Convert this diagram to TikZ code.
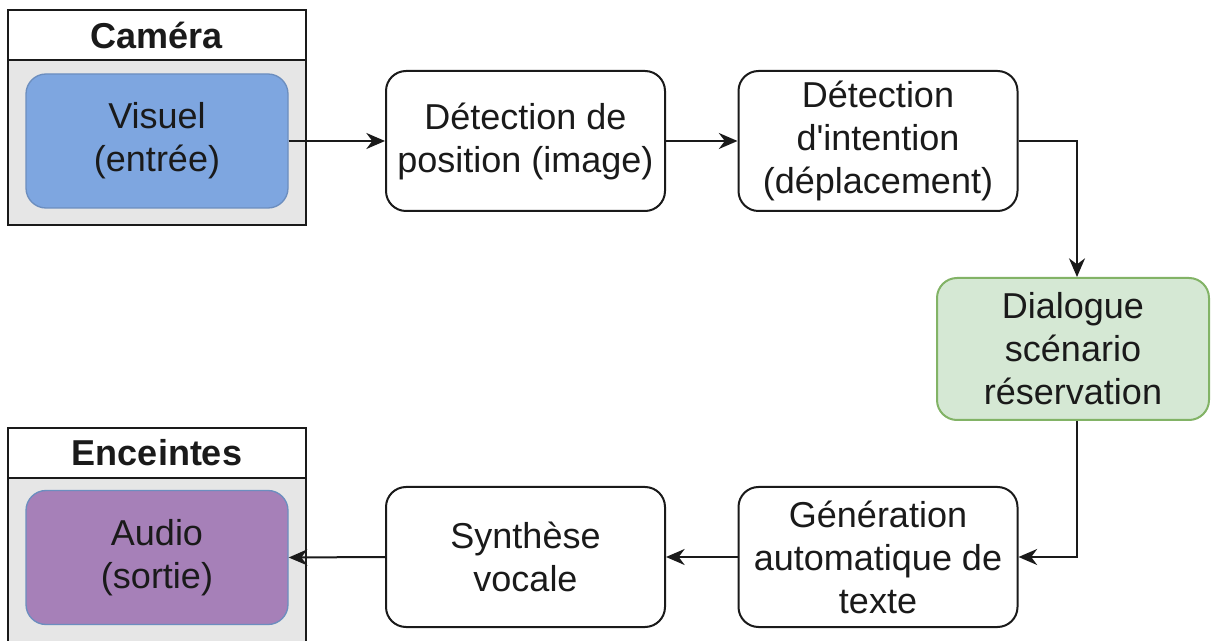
\documentclass[tikz,border=0pt]{standalone}
\usepackage{fontspec}
\setmainfont{Liberation Sans}
\newfontfamily\plainfont{Liberation Sans}
\usetikzlibrary{arrows.meta}
\definecolor{txt}{HTML}{1A1A1A}
\definecolor{blueF}{HTML}{7EA6E0}
\definecolor{blueD}{HTML}{6C8EBF}
\definecolor{purpF}{HTML}{A680B8}
\definecolor{greenF}{HTML}{D5E8D4}
\definecolor{greenD}{HTML}{82B366}
\definecolor{grayF}{HTML}{E6E6E6}
\begin{document}
\begin{tikzpicture}[x=0.75pt,y=-0.75pt,
  every node/.style={font=\fontsize{27pt}{32.25pt}\selectfont, text=txt, align=center, inner sep=0pt},
  proc/.style={draw=txt, line width=1.5pt, rounded corners=15pt, fill=white, minimum width=209.25pt, minimum height=105pt},
  inner/.style={draw=blueD, line width=1pt, rounded corners=15pt, minimum width=196.5pt, minimum height=100.5pt},
  cont/.style={draw=txt, line width=1.5pt},
  conn/.style={draw=txt, line width=1.5pt, -{Stealth[length=14pt,width=12pt,inset=4.5pt]}}
]
\useasboundingbox (0,0) rectangle (1211,641);
\clip (0,0) rectangle (1211,641);
% containers
\draw[cont, fill=grayF] (8,10) rectangle (306,225);
\draw[cont, fill=white] (8,10) rectangle (306,60);
\node[font=\fontsize{27pt}{32.25pt}\selectfont\bfseries] (camt) at (157,35) {Caméra};
\draw[cont, fill=grayF] (8,428) rectangle (306,700);
\draw[cont, fill=white] (8,428) rectangle (306,478);
\node[font=\fontsize{27pt}{32.25pt}\selectfont\bfseries] (enct) at (157,453) {Enceintes};
% nodes
\node[inner, fill=blueF] (vis) at (157,141) {Visuel\\(entrée)};
\node[proc] (det1) at (525.5,141) {Détection de\\position (image)};
\node[proc] (det2) at (878,141) {Détection\\{\plainfont d'intention}\\(déplacement)};
\node[proc, draw=greenD, fill=greenF, minimum width=204pt, minimum height=106.5pt] (dia) at (1073,349) {Dialogue\\scénario\\réservation};
\node[proc] (gen) at (878,557) {Génération\\automatique de\\texte};
\node[proc] (syn) at (525.5,557) {Synthèse\\vocale};
\node[inner, fill=purpF] (aud) at (157,557.5) {Audio\\(sortie)};
% connectors
\coordinate (c1) at (1077,141);
\coordinate (c2) at (1077,557);
\draw[conn] (vis.east) -- (det1.west);
\draw[conn] (det1.east) -- (det2.west);
\draw[conn] (det2.east) -- (c1) -- (c1 |- dia.north);
\draw[conn] (c2 |- dia.south) -- (c2) -- (gen.east);
\draw[conn] (gen.west) -- (syn.east);
\draw[conn] (syn.west) -- (aud.east);
\end{tikzpicture}
\end{document}
